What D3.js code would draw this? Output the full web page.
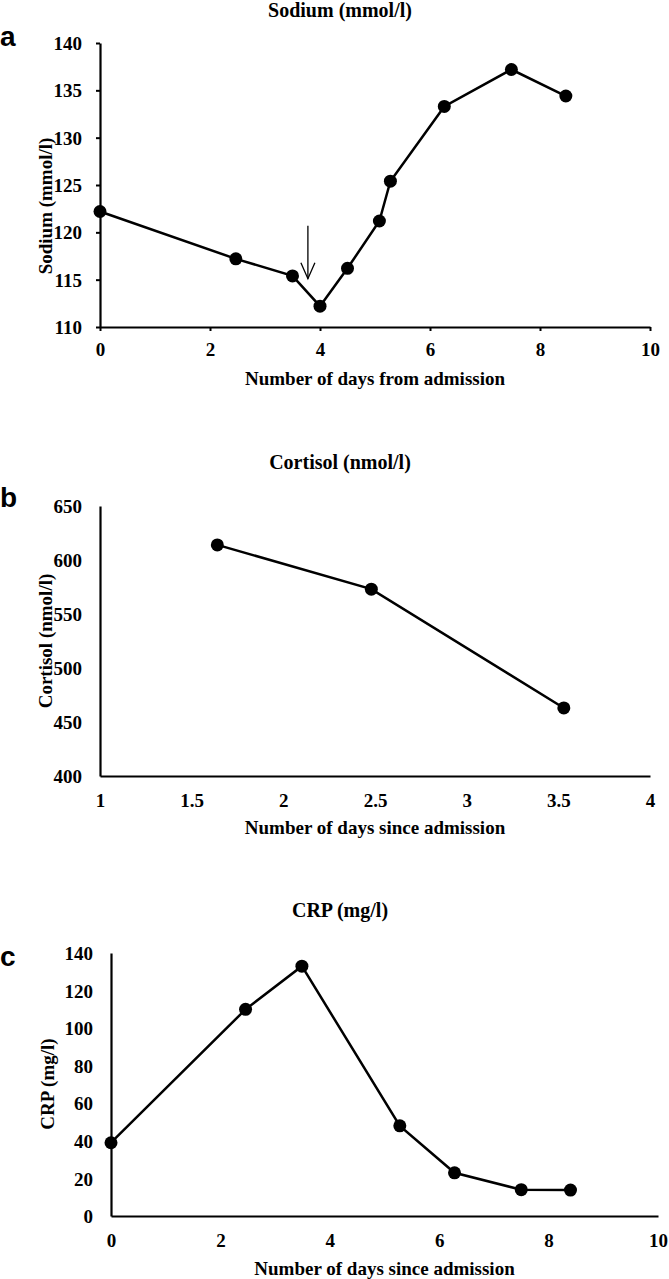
<!DOCTYPE html>
<html>
<head>
<meta charset="utf-8">
<script src="https://cdn.jsdelivr.net/npm/d3@7/dist/d3.min.js"></script>
<style>
  html, body { margin: 0; padding: 0; background: #fff; }
  svg { display: block; }
  text { font-family: "Liberation Serif", "Times New Roman", serif; font-weight: bold; fill: #000; }
</style>
</head>
<body>
<svg id="chart" width="669" height="1279"></svg>
<script>
// ---- Data ----
const sodiumDays   = [0, 2.47, 3.5, 4.0, 4.5, 5.08, 5.28, 6.26, 7.48, 8.47];
const sodiumValues = [122.2, 117.2, 115.4, 112.2, 116.2, 121.2, 125.4, 133.3, 137.2, 134.4];
const sodiumArrow  = { day: 3.78, from: 120.7, to: 115.1 };
const sodiumXTicks = [0, 2, 4, 6, 8, 10];
const sodiumYTicks = [110, 115, 120, 125, 130, 135, 140];

const cortisolDays   = [1.64, 2.48, 3.53];
const cortisolValues = [614, 573, 463];
const cortisolXTicks = [1, 1.5, 2, 2.5, 3, 3.5, 4];
const cortisolYTicks = [400, 450, 500, 550, 600, 650];

const crpDays   = [0, 2.46, 3.49, 5.28, 6.28, 7.5, 8.4];
const crpValues = [39, 110, 133, 48, 23, 14, 13.8];
const crpXTicks = [0, 2, 4, 6, 8, 10];
const crpYTicks = [0, 20, 40, 60, 80, 100, 120, 140];

const panels = [
  { letter: "a", title: "Sodium (mmol/l)", ylabel: "Sodium (mmol/l)", xlabel: "Number of days from admission",
    days: sodiumDays, values: sodiumValues, xTicks: sodiumXTicks, yTicks: sodiumYTicks,
    xDomain: [0, 10], yDomain: [110, 140], xRange: [100, 650], yRange: [327, 43],
    tick: 4, titleY: 10, letterY: 36, ylabelX: 45, ylabelY: 206, xtickY: 349, xlabelY: 378, arrow: sodiumArrow,
    fmt: d3.format("d") },
  { letter: "b", title: "Cortisol (nmol/l)", ylabel: "Cortisol (nmol/l)", xlabel: "Number of days since admission",
    days: cortisolDays, values: cortisolValues, xTicks: cortisolXTicks, yTicks: cortisolYTicks,
    xDomain: [1, 4], yDomain: [400, 650], xRange: [100, 650], yRange: [776, 506],
    tick: 0, titleY: 462, letterY: 497, ylabelX: 45, ylabelY: 641, xtickY: 800, xlabelY: 827,
    fmt: d => String(d) },
  { letter: "c", title: "CRP (mg/l)", ylabel: "CRP (mg/l)", xlabel: "Number of days since admission",
    days: crpDays, values: crpValues, xTicks: crpXTicks, yTicks: crpYTicks,
    xDomain: [0, 10], yDomain: [0, 140], xRange: [111, 658], yRange: [1216, 953],
    tick: 0, titleY: 910, letterY: 956, ylabelX: 47, ylabelY: 1084, xtickY: 1240, xlabelY: 1268,
    fmt: d3.format("d") }
];

const svg = d3.select("#chart");

panels.forEach(p => {
  const x = d3.scaleLinear().domain(p.xDomain).range(p.xRange);
  const y = d3.scaleLinear().domain(p.yDomain).range(p.yRange);
  const g = svg.append("g");

  // Y axis
  const yAxis = g.append("g").attr("transform", `translate(${p.xRange[0]},0)`)
    .call(d3.axisLeft(y).tickValues(p.yTicks).tickFormat(p.fmt).tickSize(p.tick).tickSizeOuter(0).tickPadding(18 - p.tick));
  // X axis
  const xAxis = g.append("g").attr("transform", `translate(0,${p.yRange[0]})`)
    .call(d3.axisBottom(x).tickValues(p.xTicks).tickFormat(p.fmt).tickSize(p.tick).tickSizeOuter(0));

  [yAxis, xAxis].forEach(a => {
    a.select(".domain").attr("stroke", "#000").attr("stroke-width", 2.2);
    a.selectAll(".tick line").attr("stroke", "#000").attr("stroke-width", 2);
    a.selectAll("text").style("font-family", '"Liberation Serif", serif').style("font-weight", "bold")
      .style("font-size", "19px").attr("fill", "#000");
  });
  yAxis.selectAll("text").attr("dy", "0.35em");
  xAxis.selectAll("text").attr("y", p.xtickY - p.yRange[0]).attr("dy", "0.35em");

  // Title
  g.append("text").attr("x", 340).attr("y", p.titleY).attr("dy", "0.35em")
    .attr("text-anchor", "middle").style("font-size", "20px").text(p.title);
  // Panel letter
  g.append("text").attr("x", 0).attr("y", p.letterY).attr("dy", "0.35em")
    .style("font-family", '"Liberation Sans", Arial, sans-serif').style("font-size", "28px").text(p.letter);
  // Y label
  g.append("text").attr("transform", `translate(${p.ylabelX},${p.ylabelY}) rotate(-90)`)
    .attr("dy", "0.35em").attr("text-anchor", "middle").style("font-size", "19px").text(p.ylabel);
  // X label
  g.append("text").attr("x", (p.xRange[0] + p.xRange[1]) / 2).attr("y", p.xlabelY).attr("dy", "0.35em")
    .attr("text-anchor", "middle").style("font-size", "19px").text(p.xlabel);

  const pts = p.days.map((d, i) => [d, p.values[i]]);
  g.append("path").datum(pts)
    .attr("fill", "none").attr("stroke", "#000").attr("stroke-width", 2.5)
    .attr("d", d3.line().x(d => x(d[0])).y(d => y(d[1])));
  g.selectAll("circle.pt").data(pts).join("circle").attr("class", "pt")
    .attr("cx", d => x(d[0])).attr("cy", d => y(d[1])).attr("r", 6.5).attr("fill", "#000");

  if (p.arrow) {
    const ax = x(p.arrow.day), y1 = y(p.arrow.from), y2 = y(p.arrow.to);
    g.append("line").attr("x1", ax).attr("x2", ax).attr("y1", y1).attr("y2", y2)
      .attr("stroke", "#000").attr("stroke-width", 1.3);
    g.append("path").attr("d", `M${ax - 7},${y2 - 16} L${ax},${y2} L${ax + 7},${y2 - 16}`)
      .attr("fill", "none").attr("stroke", "#000").attr("stroke-width", 1.3);
  }
});
</script>
</body>
</html>
